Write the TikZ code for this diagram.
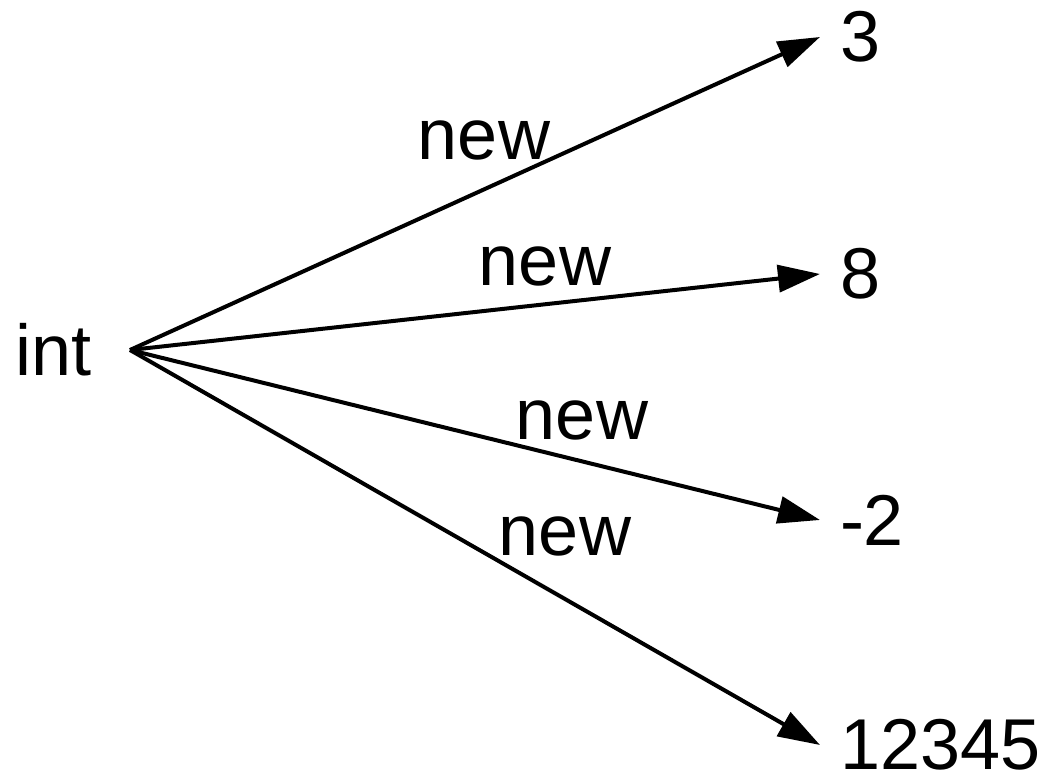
\documentclass[tikz,border=0pt]{standalone}
\usepackage{fontspec}
\setmainfont{Liberation Sans}
\usetikzlibrary{arrows.meta}

\tikzset{
    val/.style={anchor=west, inner sep=0pt, outer xsep=10pt},
    lbl/.style={inner sep=0pt},
    ptr/.style={-{Triangle[length=21pt,width=13.5pt]}, line width=2pt},
}

\begin{document}
\begin{tikzpicture}[x=0.5pt, y=-0.5pt, font=\fontsize{36}{43}\selectfont]
    \useasboundingbox (0,0) rectangle (1051,779);

    \node[inner sep=0pt] (int) at (54,350) {int};
    \coordinate (o) at (130,350);

    \node[val] (v3) at (820,37) {3};
    \node[val] (v8) at (820,274) {8};
    \node[val] (vm2) at (820,520) {-2};
    \node[val] (v12345) at (820,745) {12345};

    \draw[ptr] (o) -- (v3.west);
    \draw[ptr] (o) -- (v8.west);
    \draw[ptr] (o) -- (vm2.west);
    \draw[ptr] (o) -- (v12345.west);

    \node[lbl] (l1) at (484,140) {new};
    \node[lbl] (l2) at (545,266) {new};
    \node[lbl] (l3) at (582,420) {new};
    \node[lbl] (l4) at (565,536) {new};
\end{tikzpicture}
\end{document}
